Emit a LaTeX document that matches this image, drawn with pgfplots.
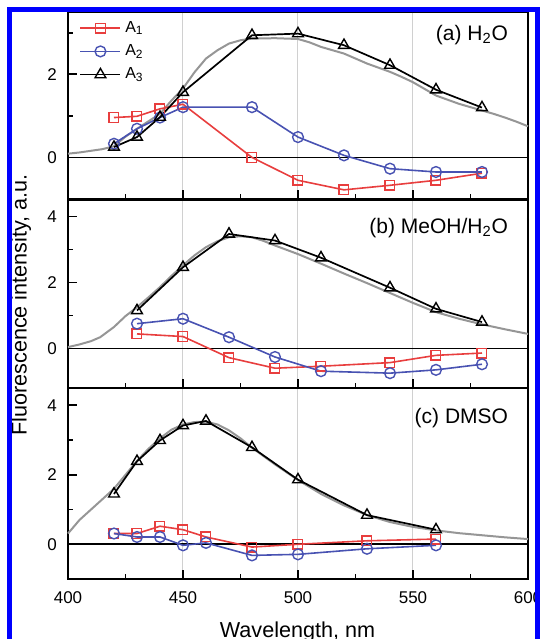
\documentclass[border=0pt]{standalone}
\usepackage{pgfplots}
\pgfplotsset{compat=1.18}
\usepackage{fontspec}
\setmainfont{Liberation Sans}
\definecolor{cA}{RGB}{232,62,62}
\definecolor{cB}{RGB}{72,82,178}
\definecolor{spec}{RGB}{150,150,150}
\definecolor{frame}{RGB}{0,0,255}
\pgfplotsset{
  panel/.style={
    scale only axis, width=230pt,
    xmin=400, xmax=600,
    xtick={400,450,...,600}, minor x tick num=1,
    ytick={0,2,4}, minor y tick num=1,
    xtick pos=left, ytick pos=left, tick align=inside,
    major tick length=4.5pt, minor tick length=2.5pt,
    xmajorgrids, grid style={spec!45, line width=0.5pt},
    axis line style={line width=1pt},
    every tick/.style={black, line width=0.9pt},
    tick label style={font=\fontsize{8.5}{10}\selectfont},
    /pgf/number format/assume math mode=true,
    yticklabel style={xshift=-2pt},
    xticklabel style={yshift=-3pt},
    clip=false,
  },
  a1/.style={cA, line width=0.8pt, mark=square, mark size=2.4pt, mark options={solid, fill=white, line width=0.7pt}},
  a2/.style={cB, line width=0.8pt, mark=o, mark size=2.7pt, mark options={solid, fill=white, line width=0.7pt}},
  a3/.style={black, line width=0.85pt, mark=triangle, mark size=3.1pt, mark options={solid, fill=white, line width=0.7pt}},
  sp/.style={spec, line width=1pt, no marks, forget plot},
  zero/.style={black, line width=0.9pt, no marks, forget plot},
}
\begin{document}
\begin{tikzpicture}
\path[use as bounding box] (0,0) rectangle (270pt,319.5pt);

% (a) H2O
\begin{axis}[panel, at={(34pt,220pt)}, anchor=south west, height=93.5pt,
    ymin=-1, ymax=3.5, xticklabels={},
    legend style={at={(0.02,0.985)}, anchor=north west, draw=none, fill=none,
      font=\fontsize{8}{9}\selectfont, row sep=0.6pt, inner sep=1pt},
    legend cell align=left,
    legend image code/.code={\draw[mark repeat=2, mark phase=2]
      plot coordinates {(0pt,0pt) (10pt,0pt) (20pt,0pt)};}]
\addplot[zero] coordinates {(400,0) (600,0)};
\addplot[sp] coordinates {
(400,0.09) (405,0.12) (410,0.16) (415,0.2) (420,0.27) (425,0.5) (430,0.69) (435,0.87)
(440,1.05) (445,1.37) (450,1.66) (455,2.05) (460,2.38) (465,2.58) (470,2.74) (475,2.82)
(480,2.86) (490,2.87) (500,2.85) (505,2.77) (510,2.66) (515,2.58) (520,2.5) (525,2.38)
(530,2.26) (535,2.16) (540,2.06) (545,1.94) (550,1.81) (555,1.65) (560,1.49) (565,1.39)
(570,1.29) (575,1.21) (580,1.13) (585,1.05) (590,0.96) (595,0.86) (600,0.75)};
\addplot[a1] coordinates {(420,0.96) (430,0.99) (440,1.17) (450,1.28) (480,0.0) (500,-0.55) (520,-0.78) (540,-0.67) (560,-0.55) (580,-0.38)};
\addplot[a2] coordinates {(420,0.33) (430,0.69) (440,0.96) (450,1.21) (480,1.21) (500,0.49) (520,0.05) (540,-0.27) (560,-0.35) (580,-0.35)};
\addplot[a3] coordinates {(420,0.25) (430,0.49) (440,0.97) (450,1.57) (480,2.94) (500,2.98) (520,2.70) (540,2.22) (560,1.63) (580,1.20)};
\legend{A\textsubscript{1}, A\textsubscript{2}, A\textsubscript{3}}
\node[anchor=east, font=\fontsize{10.5}{12}\selectfont] at (rel axis cs:0.972,0.877) {(a) H\textsubscript{2}O};
\end{axis}

% (b) MeOH/H2O
\begin{axis}[panel, at={(34pt,125.5pt)}, anchor=south west, height=94pt,
    ymin=-1.2, ymax=4.5, xticklabels={}]
\addplot[zero] coordinates {(400,0) (600,0)};
\addplot[sp] coordinates {
(400,0.04) (405,0.12) (410,0.22) (414,0.34) (420,0.65) (425,0.98) (430,1.25) (435,1.55)
(440,1.86) (445,2.2) (450,2.52) (455,2.82) (460,3.07) (465,3.25) (470,3.37) (475,3.4)
(480,3.37) (485,3.26) (490,3.12) (500,2.86) (510,2.57) (520,2.27) (530,1.98) (540,1.68)
(550,1.38) (560,1.1) (570,0.9) (580,0.73) (590,0.58) (600,0.44)};
\addplot[a1] coordinates {(430,0.44) (450,0.36) (470,-0.28) (490,-0.6) (510,-0.54) (540,-0.43) (560,-0.21) (580,-0.14)};
\addplot[a2] coordinates {(430,0.75) (450,0.9) (470,0.34) (490,-0.26) (510,-0.69) (540,-0.75) (560,-0.65) (580,-0.48)};
\addplot[a3] coordinates {(430,1.15) (450,2.46) (470,3.47) (490,3.27) (510,2.75) (540,1.84) (560,1.20) (580,0.80)};
\node[anchor=east, font=\fontsize{10.5}{12}\selectfont] at (rel axis cs:0.972,0.85) {(b) MeOH/H\textsubscript{2}O};
\end{axis}

% (c) DMSO
\begin{axis}[panel, at={(34pt,30pt)}, anchor=south west, height=95.5pt,
    ymin=-1, ymax=4.5]
\addplot[zero] coordinates {(400,0) (600,0)};
\addplot[sp] coordinates {
(400,0.31) (405,0.7) (410,1.0) (415,1.3) (420,1.6) (425,2.0) (430,2.4) (435,2.75)
(440,3.05) (445,3.3) (450,3.45) (455,3.52) (460,3.53) (465,3.45) (470,3.28) (475,3.05)
(480,2.78) (490,2.3) (500,1.85) (510,1.45) (520,1.12) (530,0.84) (540,0.64) (550,0.5)
(560,0.4) (570,0.32) (580,0.26) (590,0.2) (600,0.15)};
\addplot[a1] coordinates {(420,0.31) (430,0.31) (440,0.52) (450,0.42) (460,0.21) (480,-0.08) (500,0.0) (530,0.1) (560,0.15)};
\addplot[a2] coordinates {(420,0.31) (430,0.21) (440,0.21) (450,-0.03) (460,0.04) (480,-0.32) (500,-0.29) (530,-0.13) (560,-0.03)};
\addplot[a3] coordinates {(420,1.45) (430,2.39) (440,2.99) (450,3.42) (460,3.55) (480,2.79) (500,1.86) (530,0.84) (560,0.42)};
\node[anchor=east, font=\fontsize{10.5}{12}\selectfont] at (rel axis cs:0.972,0.843) {(c) DMSO};
\end{axis}

\node[rotate=90, font=\fontsize{10.8}{12}\selectfont] at (10.5pt,167pt) {Fluorescence intensity, a.u.};
\node[anchor=base, font=\fontsize{10.8}{12}\selectfont] at (148.75pt,1pt) {Wavelength, nm};
\draw[frame, line width=2.5pt] (4.75pt,-10pt) -- (4.75pt,314.75pt) -- (268.75pt,314.75pt) -- (268.75pt,-10pt);
\end{tikzpicture}
\end{document}
